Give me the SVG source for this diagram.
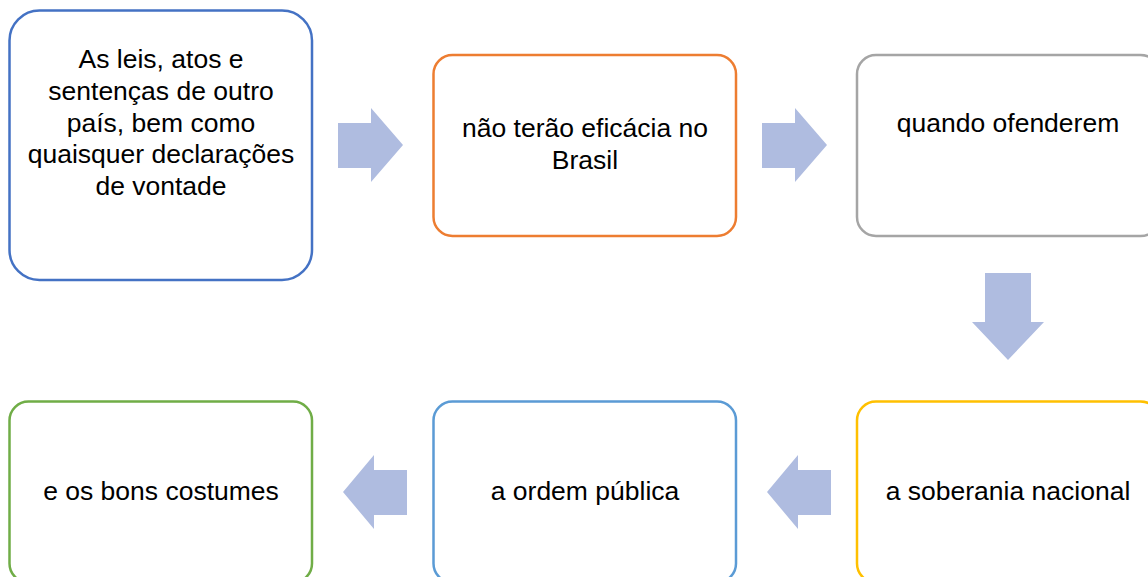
<svg xmlns="http://www.w3.org/2000/svg" width="1148" height="577" viewBox="0 0 1148 577">
<style>
.box{fill:#FFFFFF;stroke-width:2.5}
.t{font-family:"Liberation Sans",Arial,sans-serif;font-size:26.5px;fill:#000000;text-anchor:middle}
.arr{fill:#AFBCE0}
</style>
<rect width="1148" height="577" fill="#FFFFFF"/>
<g id="connectors">
<polygon class="arr" points="338,123 371,123 371,108 403,145 371,182 371,168 338,168"/>
<polygon class="arr" points="762,123 795,123 795,108 827,145 795,182 795,168 762,168"/>
<polygon class="arr" points="985,273 1031,273 1031,322 1044,322 1008,360 972,322 985,322"/>
<polygon class="arr" points="831,470 798,470 798,455 767,492 798,529 798,515 831,515"/>
<polygon class="arr" points="407,470 374,470 374,455 343,492 374,529 374,515 407,515"/>
</g>
<g id="node1">
<rect class="box" x="9.5" y="10.5" width="302.5" height="269.5" rx="30" ry="30" stroke="#4472C4"/>
<text class="t" x="161" y="68">As leis, atos e</text>
<text class="t" x="161" y="100">sentenças de outro</text>
<text class="t" x="161" y="132">país, bem como</text>
<text class="t" x="161" y="163">quaisquer declarações</text>
<text class="t" x="161" y="195">de vontade</text>
</g>
<g id="node2">
<rect class="box" x="433.5" y="55" width="302.5" height="181" rx="19" ry="19" stroke="#ED7D31"/>
<text class="t" x="585" y="137">não terão eficácia no</text>
<text class="t" x="585" y="169">Brasil</text>
</g>
<g id="node3">
<rect class="box" x="857" y="55" width="302.5" height="181" rx="19" ry="19" stroke="#A5A5A5"/>
<text class="t" x="1008" y="132">quando ofenderem</text>
</g>
<g id="node4">
<rect class="box" x="857" y="401.5" width="302.5" height="181" rx="19" ry="19" stroke="#FFC000"/>
<text class="t" x="1008" y="500">a soberania nacional</text>
</g>
<g id="node5">
<rect class="box" x="433.5" y="401.5" width="302.5" height="181" rx="19" ry="19" stroke="#5B9BD5"/>
<text class="t" x="585" y="500">a ordem pública</text>
</g>
<g id="node6">
<rect class="box" x="9.5" y="401.5" width="302.5" height="181" rx="19" ry="19" stroke="#70AD47"/>
<text class="t" x="161" y="500">e os bons costumes</text>
</g>
</svg>
